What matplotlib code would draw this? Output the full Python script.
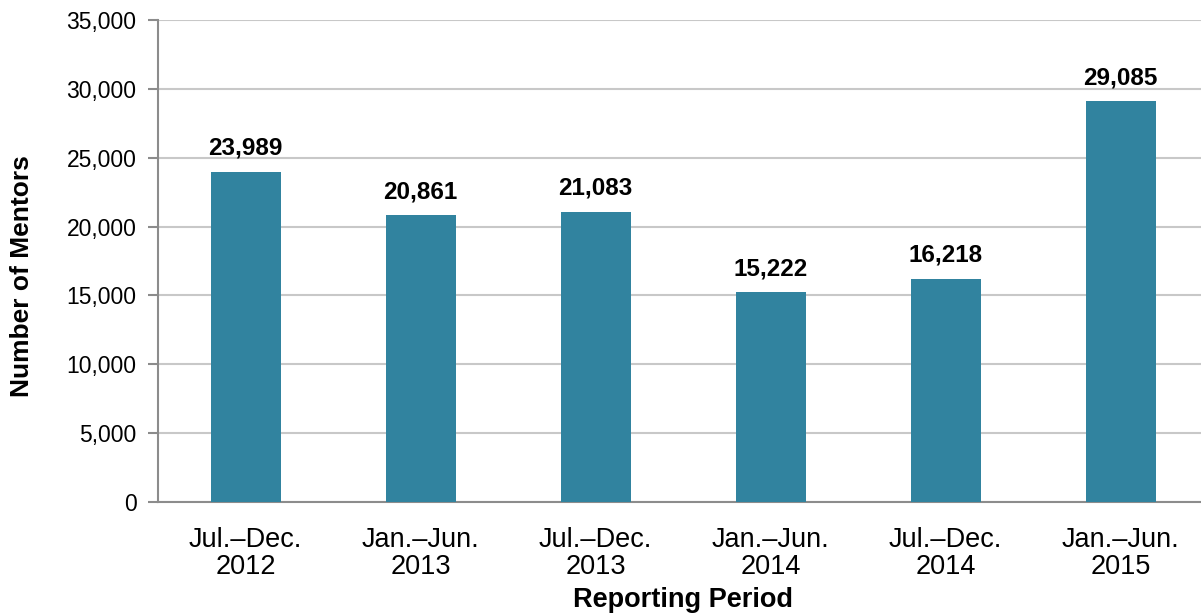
import matplotlib
matplotlib.use("Agg")
import matplotlib.pyplot as plt
from matplotlib.ticker import FuncFormatter

periods = ["Jul.\u2013Dec.\n2012", "Jan.\u2013Jun.\n2013", "Jul.\u2013Dec.\n2013",
           "Jan.\u2013Jun.\n2014", "Jul.\u2013Dec.\n2014", "Jan.\u2013Jun.\n2015"]
mentors = [23989, 20861, 21083, 15222, 16218, 29085]
yticks = [0, 5000, 10000, 15000, 20000, 25000, 30000, 35000]

plt.rcParams['font.family'] = ["Liberation Sans", "DejaVu Sans"]

fig = plt.figure(figsize=(12.01, 6.13), dpi=100)
ax = fig.add_axes([158 / 1201, 111 / 613, 1050 / 1201, 482 / 613])

x = list(range(len(periods)))
ax.bar(x, mentors, width=0.4, color="#31839f", zorder=3)
for xi, v in zip(x, mentors):
    ax.text(xi, v + 850, f"{v:,}", ha="center", va="bottom",
            fontsize=17.5, fontweight="bold", color="black")

ax.set_xlim(-0.5, len(periods) - 0.5)
ax.set_ylim(0, 35000)
ax.set_yticks(yticks)
ax.yaxis.set_major_formatter(FuncFormatter(lambda v, p: f"{int(v):,}"))
ax.set_xticks(x)
ax.set_xticklabels(periods, fontsize=19.5, linespacing=1.05)
for lbl in ax.get_yticklabels():
    lbl.set_fontsize(16.5)

ax.grid(axis="y", color="#c8c8c8", linewidth=1.5, zorder=0)
ax.tick_params(axis="x", length=0, pad=18)
ax.tick_params(axis="y", length=7, width=1.5, color="#8c8c8c", pad=8.5)
for side in ["top", "right"]:
    ax.spines[side].set_visible(False)
for side in ["left", "bottom"]:
    ax.spines[side].set_color("#8c8c8c")
    ax.spines[side].set_linewidth(1.5)

ax.set_xlabel("Reporting Period", fontsize=19.5, fontweight="bold", labelpad=5)
ax.set_ylabel("Number of Mentors", fontsize=19, fontweight="bold")
ax.yaxis.set_label_coords(-0.118, 0.469)

fig.savefig("out.png", dpi=100)
